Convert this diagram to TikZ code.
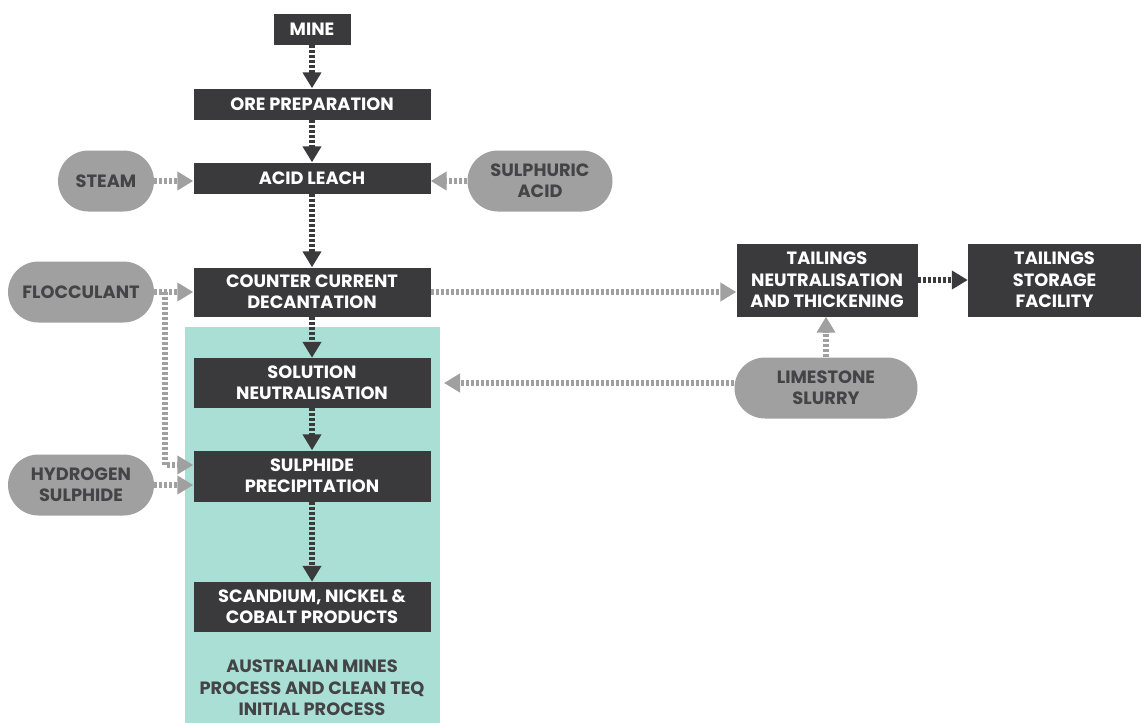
\documentclass[tikz,border=0pt]{standalone}
\usepackage{fontspec}
\setmainfont{Poppins}
\usetikzlibrary{arrows.meta,shapes.misc}
\definecolor{boxc}{HTML}{3A3A3C}
\definecolor{pillc}{HTML}{A0A0A0}
\definecolor{tealc}{HTML}{AADFD6}
\definecolor{pilltext}{HTML}{444446}
\tikzset{
  lbl/.style={font=\bfseries\fontsize{17.8}{21.3}\selectfont, align=center, inner sep=0pt},
  box/.style={lbl, fill=boxc, text=white},
  pill/.style={lbl, rounded rectangle, fill=pillc, text=pilltext, minimum height=61pt},
  darr/.style={draw=boxc, line width=5.5pt, dash pattern=on 3pt off 2pt, -{Triangle[length=16pt,width=18pt]}},
  garr/.style={draw=pillc, line width=5.5pt, dash pattern=on 3pt off 2pt, -{Triangle[length=16pt,width=18pt]}},
}
\begin{document}
\begin{tikzpicture}[x=1pt,y=-1pt]
\useasboundingbox (0,0) rectangle (1141,723);
\fill[tealc] (185,327) rectangle (440,723);
\node[box, minimum width=77pt, minimum height=31pt] (mine) at (312,29) {MINE};
\node[box, minimum width=237pt, minimum height=31pt] (ore) at (312,104) {ORE PREPARATION};
\node[box, minimum width=237pt, minimum height=31pt] (acid) at (312,178) {ACID LEACH};
\node[pill, minimum width=96pt] (steam) at (106,181) {STEAM};
\node[pill, minimum width=145pt] (sulph) at (540,181) {SULPHURIC\\ACID};
\node[box, minimum width=237pt, minimum height=49pt] (ccd) at (312,292) {COUNTER CURRENT\\DECANTATION};
\node[pill, minimum width=146pt] (floc) at (81,292) {FLOCCULANT};
\node[box, minimum width=237pt, minimum height=50pt] (sn) at (312,383) {SOLUTION\\NEUTRALISATION};
\node[box, minimum width=237pt, minimum height=51pt] (sp) at (312,476) {SULPHIDE\\PRECIPITATION};
\node[pill, minimum width=146pt] (h2s) at (81,485) {HYDROGEN\\SULPHIDE};
\node[box, minimum width=237pt, minimum height=50pt] (prod) at (312,607) {SCANDIUM, NICKEL \&\\COBALT PRODUCTS};
\node[lbl, text=pilltext] (cap) at (312,688) {AUSTRALIAN MINES\\PROCESS AND CLEAN TEQ\\INITIAL PROCESS};
\node[box, minimum width=181pt, minimum height=73pt] (tn) at (827,280) {TAILINGS\\NEUTRALISATION\\AND THICKENING};
\node[box, minimum width=173pt, minimum height=73pt] (tsf) at (1054.5,280) {TAILINGS\\STORAGE\\FACILITY};
\node[pill, minimum width=183pt] (lime) at (826,388) {LIMESTONE\\SLURRY};
\coordinate (fb) at (165,292);
\coordinate (limeend) at (444,383);
% dark arrows
\draw[darr] (mine) -- (ore);
\draw[darr] (ore) -- (acid);
\draw[darr] (acid) -- (ccd);
\draw[darr] (ccd) -- (sn);
\draw[darr] (sn) -- (sp);
\draw[darr] (sp) -- (prod);
\draw[darr] (tn) -- (tsf);
% grey arrows
\draw[garr] (steam.east) -- (acid.west |- steam.east);
\draw[garr] (sulph.west) -- (acid.east |- sulph.west);
\draw[garr] (floc.east) -- (ccd.west);
\draw[garr] (fb) |- ([yshift=11pt]sp.west);
\draw[garr] (h2s.east) -- (sp.west |- h2s.east);
\draw[garr] (ccd.east) -- (tn.west |- ccd.east);
\draw[garr] (lime.west |- limeend) -- (limeend);
\draw[garr] (lime.north) -- (lime.north |- tn.south);
\end{tikzpicture}
\end{document}
